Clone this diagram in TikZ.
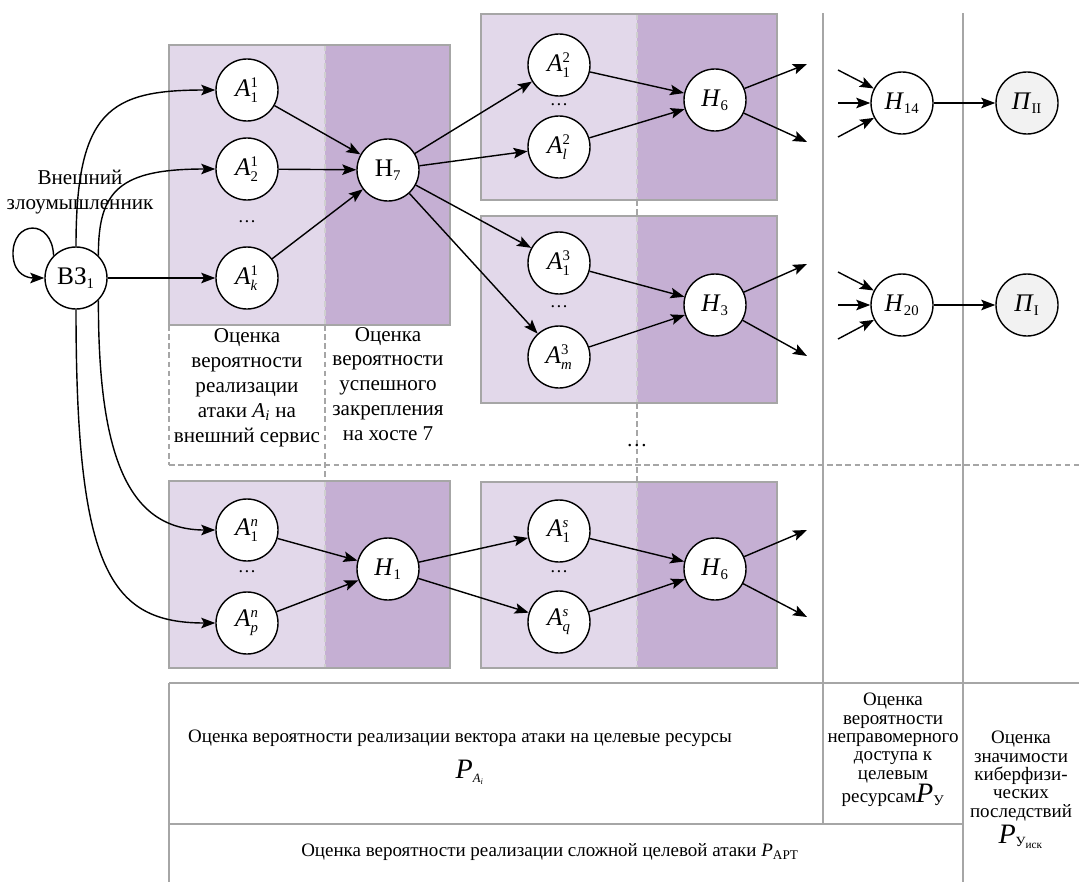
\documentclass[tikz,border=0pt]{standalone}
\usepackage{fontspec}
\setmainfont{LiberationSerif}[Extension=.ttf,UprightFont=*-Regular,ItalicFont=*-Italic,
  BoldFont=*-Bold,BoldItalicFont=*-BoldItalic]
\usetikzlibrary{arrows.meta}

\definecolor{lightp}{HTML}{E2D8EA}
\definecolor{darkp}{HTML}{C5AFD3}
\definecolor{gline}{HTML}{A6A6A6}
\definecolor{gsoft}{HTML}{CFCFCF}
\definecolor{pfill}{HTML}{F2F2F2}

% small text-mode indices for node labels
\newcommand{\Ix}[1]{\mbox{\fontsize{10.5}{10.5}\selectfont #1}}
\newcommand{\Sb}[1]{\ensuremath{_{\Ix{#1}}}}
\newcommand{\SupSub}[3]{#1\ensuremath{^{\Ix{#2}}_{\Ix{#3}}}}

\begin{document}
\begin{tikzpicture}[x=0.025cm,y=-0.025cm,
  vert/.style={circle,draw,line width=1pt,fill=white,minimum size=1.55cm,inner sep=0pt,
    font=\fontsize{18}{18}\selectfont},
  outcome/.style={vert,fill=pfill},
  arr/.style={-{Stealth[length=10pt,width=7.5pt,inset=2pt]},line width=1pt},
  frameline/.style={gline,line width=1.3pt},
  gridline/.style={gline,line width=1.1pt},
  dashline/.style={gline,line width=0.8pt,dash pattern=on 4pt off 2.5pt},
  softdash/.style={gsoft,line width=0.8pt,dash pattern=on 4pt off 2.5pt},
  caption/.style={align=center,font=\fontsize{15}{17.7}\selectfont,inner sep=0pt},
  note/.style={align=center,font=\fontsize{13.5}{13}\selectfont,inner sep=0pt},
  dotlabel/.style={font=\fontsize{13}{13}\selectfont,inner sep=0pt}]
\useasboundingbox (0,0) rectangle (1079,882);

% ---- stage panels ----
\fill[lightp] (169,45) rectangle (325,325);  \fill[darkp] (325,45) rectangle (450,325);
\fill[lightp] (481,14) rectangle (637,200);  \fill[darkp] (637,14) rectangle (777,200);
\fill[lightp] (481,216) rectangle (637,403); \fill[darkp] (637,216) rectangle (777,403);
\fill[lightp] (169,481) rectangle (325,668); \fill[darkp] (325,481) rectangle (450,668);
\fill[lightp] (481,482) rectangle (637,668); \fill[darkp] (637,482) rectangle (777,668);

% ---- column separators ----
\draw[softdash] (325,45) -- (325,325);  \draw[dashline] (325,325) -- (325,481);
\draw[softdash] (325,481) -- (325,668);
\draw[softdash] (637,14) -- (637,200);  \draw[dashline] (637,200) -- (637,216);
\draw[softdash] (637,216) -- (637,403); \draw[dashline] (637,403) -- (637,482);
\draw[softdash] (637,482) -- (637,668);
\draw[dashline] (169,325) -- (169,465);
\draw[dashline] (169,465) -- (1079,465);
\draw[gridline] (823,13) -- (823,824);
\draw[gridline] (963,13) -- (963,882);
\draw[gridline] (169,683) -- (1079,683);
\draw[gridline] (169,824) -- (963,824);
\draw[gridline] (169,683) -- (169,882);

\draw[frameline] (169,45) rectangle (450,325);
\draw[frameline] (481,14) rectangle (777,200);
\draw[frameline] (481,216) rectangle (777,403);
\draw[frameline] (169,481) rectangle (450,668);
\draw[frameline] (481,482) rectangle (777,668);

% ---- nodes ----
\node[vert] (vz) at (76,278) {ВЗ\Sb{1}};
\node[vert] (a11) at (247,90) {\SupSub{\textit{A}}{1}{1}};
\node[vert] (a12) at (247,169) {\SupSub{\textit{A}}{1}{2}};
\node[dotlabel] (d1) at (247,222) {\ldots};
\node[vert] (a1k) at (247,278) {\SupSub{\textit{A}}{1}{\textit{k}}};
\node[vert] (h7) at (388,170) {Н\Sb{7}};

\node[vert] (a21) at (559,65) {\SupSub{\textit{A}}{2}{1}};
\node[dotlabel] (d2) at (559,105) {\ldots};
\node[vert] (a2l) at (559,147) {\SupSub{\textit{A}}{2}{\textit{l}}};
\node[vert] (h6a) at (715,100) {\textit{H}\Sb{6}};

\node[vert] (a31) at (559,263) {\SupSub{\textit{A}}{3}{1}};
\node[dotlabel] (d3) at (559,307) {\ldots};
\node[vert] (a3m) at (559,357) {\SupSub{\textit{A}}{3}{\textit{m}}};
\node[vert] (h3) at (715,305) {\textit{H}\Sb{3}};

\node[vert] (an1) at (247,530) {\SupSub{\textit{A}}{\textit{n}}{1}};
\node[dotlabel] (d4) at (247,572) {\ldots};
\node[vert] (anp) at (247,623) {\SupSub{\textit{A}}{\textit{n}}{\textit{p}}};
\node[vert] (h1) at (388,569) {\textit{H}\Sb{1}};

\node[vert] (as1) at (559,531) {\SupSub{\textit{A}}{\textit{s}}{1}};
\node[dotlabel] (d5) at (559,572) {\ldots};
\node[vert] (asq) at (559,622) {\SupSub{\textit{A}}{\textit{s}}{\textit{q}}};
\node[vert] (h6b) at (715,569) {\textit{H}\Sb{6}};

\node[vert] (h14) at (902,103) {\textit{H}\Sb{14}};
\node[outcome] (p2) at (1027,103) {\textit{П}\Sb{II}};
\node[vert] (h20) at (902,305) {\textit{H}\Sb{20}};
\node[outcome] (p1) at (1027,305) {\textit{П}\Sb{I}};

\node[dotlabel,font=\fontsize{15}{15}\selectfont] (dmore) at (637,446) {\ldots};

% ---- free ends of outgoing / incoming arrows ----
\coordinate (o1) at (807,64);  \coordinate (o2) at (807,142);
\coordinate (o3) at (807,264); \coordinate (o4) at (807,356);
\coordinate (o5) at (807,530); \coordinate (o6) at (807,617);
\coordinate (i1) at (838,70);  \coordinate (i2) at (838,103); \coordinate (i3) at (838,137);
\coordinate (i4) at (838,272); \coordinate (i5) at (838,305); \coordinate (i6) at (838,339);

% ---- connectors ----
\draw[arr] (vz.135) .. controls (52,218) and (12,220) .. (13,255)
           .. controls (14,275) and (28,278) .. (vz.west);
\draw[arr] (vz.north) .. controls (76,110) and (110,90) .. (a11.west);
\draw[arr] (vz.45) .. controls (98,190) and (120,169) .. (a12.west);
\draw[arr] (vz.east) -- (a1k.west);
\draw[arr] (vz.-45) .. controls (98,460) and (130,530) .. (an1.west);
\draw[arr] (vz.south) .. controls (76,570) and (110,623) .. (anp.west);

\draw[arr] (a11) -- (h7);
\draw[arr] (a12) -- (h7);
\draw[arr] (a1k) -- (h7);
\draw[arr] (h7) -- (a21);
\draw[arr] (h7) -- (a2l);
\draw[arr] (h7) -- (a31);
\draw[arr] (h7) -- (a3m);
\draw[arr] (a21) -- (h6a);
\draw[arr] (a2l) -- (h6a);
\draw[arr] (a31) -- (h3);
\draw[arr] (a3m) -- (h3);
\draw[arr] (an1) -- (h1);
\draw[arr] (anp) -- (h1);
\draw[arr] (h1) -- (as1);
\draw[arr] (h1) -- (asq);
\draw[arr] (as1) -- (h6b);
\draw[arr] (asq) -- (h6b);

\draw[arr] (h6a) -- (o1); \draw[arr] (h6a) -- (o2);
\draw[arr] (h3) -- (o3);  \draw[arr] (h3) -- (o4);
\draw[arr] (h6b) -- (o5); \draw[arr] (h6b) -- (o6);

\draw[arr] (i1) -- (h14); \draw[arr] (i2) -- (h14); \draw[arr] (i3) -- (h14);
\draw[arr] (i4) -- (h20); \draw[arr] (i5) -- (h20); \draw[arr] (i6) -- (h20);
\draw[arr] (h14) -- (p2);
\draw[arr] (h20) -- (p1);

% ---- captions ----
\node[caption] (attacker) at (80,192) {Внешний\\злоумышленник};
\node[caption] (c1) at (247,388) {Оценка\\вероятности\\реализации\\атаки \textit{A}\textsubscript{\textit{i}} на\\внешний сервис};
\node[caption] (c2) at (388,384) {Оценка\\вероятности\\успешного\\закрепления\\на хосте 7};

\node[caption,font=\fontsize{13.5}{16}\selectfont] (b1) at (460,738)
  {Оценка вероятности реализации вектора атаки на целевые ресурсы};
\node[inner sep=0pt] (b1p) at (470,772)
  {\fontsize{20}{20}\selectfont\textit{P}\ensuremath{_{\mbox{\fontsize{9}{9}\selectfont\textit{A}\ensuremath{_{\mbox{\fontsize{6}{6}\selectfont\textit{i}}}}}}}};
\node[caption,font=\fontsize{13.5}{16}\selectfont] (b2) at (550,852)
  {Оценка вероятности реализации сложной целевой атаки \textit{P}\textsubscript{APT}};
\node[note] (b3) at (893,750)
  {Оценка\\вероятности\\неправомерного\\доступа к\\целевым\\ресурсам{\fontsize{20}{13}\selectfont\textit{P}}\Sb{У}};
\node[note] (b4) at (1021,790)
  {Оценка\\значимости\\киберфизи-\\ческих\\последствий\\[2pt]{\fontsize{20}{13}\selectfont\textit{P}}\ensuremath{_{\mbox{\fontsize{10}{10}\selectfont У\ensuremath{_{\mbox{\fontsize{8}{8}\selectfont иск}}}}}}};
\end{tikzpicture}
\end{document}
